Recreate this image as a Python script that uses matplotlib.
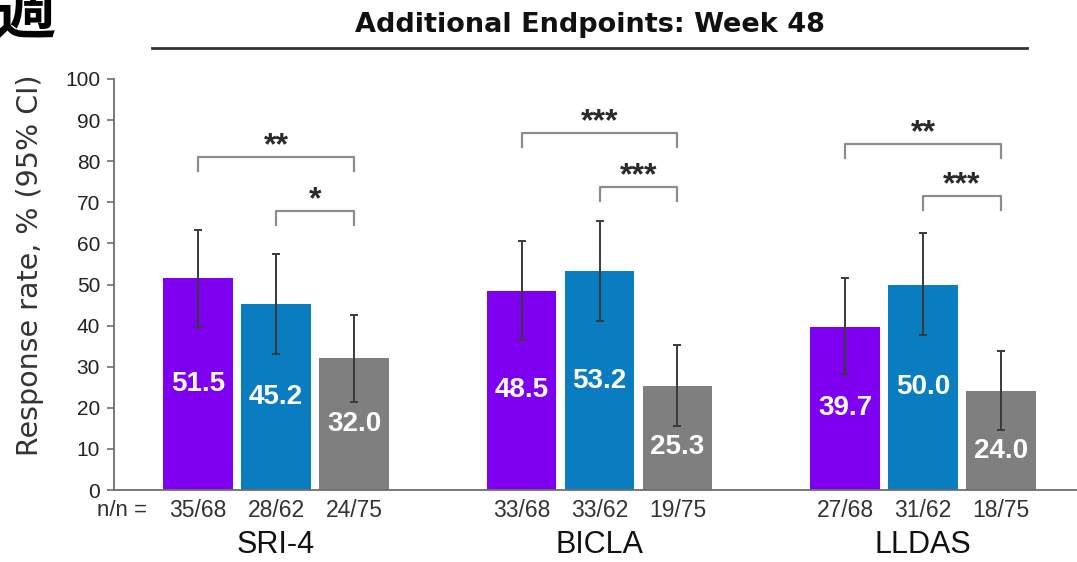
import matplotlib
matplotlib.use("Agg")
import matplotlib.pyplot as plt
from matplotlib.transforms import blended_transform_factory

plt.rcParams['font.family'] = ['Liberation Sans', 'DejaVu Sans']

# Endpoints and treatment arms
endpoints = ["SRI-4", "BICLA", "LLDAS"]
arm_colors = ["#7F00F0", "#0A7DC0", "#7F7F7F"]

# Response rates (%) per endpoint, arm order: purple, blue, gray
rates = [
    [51.5, 45.2, 32.0],
    [48.5, 53.2, 25.3],
    [39.7, 50.0, 24.0],
]
ci_low = [
    [39.7, 33.0, 21.5],
    [36.5, 41.0, 15.5],
    [28.3, 37.8, 14.5],
]
ci_high = [
    [63.3, 57.5, 42.5],
    [60.5, 65.5, 35.2],
    [51.6, 62.5, 33.9],
]
counts = [
    ["35/68", "28/62", "24/75"],
    ["33/68", "33/62", "19/75"],
    ["27/68", "31/62", "18/75"],
]

# Significance brackets: (endpoint index, arm from, arm to, height, label)
brackets = [
    (0, 0, 2, 81.0, "**"),
    (0, 1, 2, 67.9, "*"),
    (1, 0, 2, 86.9, "***"),
    (1, 1, 2, 73.7, "***"),
    (2, 0, 2, 84.2, "**"),
    (2, 1, 2, 71.5, "***"),
]

fig = plt.figure(figsize=(10.77, 5.62), dpi=100)
ax = fig.add_axes([114 / 1077, 1 - 490 / 562, 1 - 114 / 1077, (490 - 79) / 562])

step = 0.241
width = 0.216

def bar_x(g, a):
    return g + (a - 1) * step

for g in range(len(endpoints)):
    for a in range(3):
        x = bar_x(g, a)
        v = rates[g][a]
        ax.bar(x, v, width=width, color=arm_colors[a], zorder=2)
        ax.errorbar(x, v, yerr=[[v - ci_low[g][a]], [ci_high[g][a] - v]],
                    fmt="none", ecolor="#3a3a3a", elinewidth=1.4,
                    capsize=3, capthick=1.4, zorder=3)
        ty = min(v / 2, ci_low[g][a] - 5)
        ax.text(x, ty, f"{v:.1f}", ha="center", va="center", color="white",
                fontsize=20, fontweight="bold", zorder=4)

tick_drop = 3.4
for g, a0, a1, h, lab in brackets:
    x0, x1 = bar_x(g, a0), bar_x(g, a1)
    ax.plot([x0, x0, x1, x1], [h - tick_drop, h, h, h - tick_drop],
            color="#8c8c8c", lw=1.6, zorder=2, clip_on=False)
    ax.text((x0 + x1) / 2, h + 0.6, lab, ha="center", va="baseline",
            fontsize=23, fontweight="bold", color="#2a2a2a")

ax.set_ylim(0, 100)
ax.set_xlim(-0.5008, 2.476)
ax.set_yticks(range(0, 101, 10))
ax.set_xticks([])
ax.tick_params(axis="y", direction="out", length=5, width=1.2,
               colors="#6e6e6e", labelcolor="#222222", labelsize=15, pad=5)
for s in ["top", "right"]:
    ax.spines[s].set_visible(False)
for s in ["left", "bottom"]:
    ax.spines[s].set_color("#6e6e6e")
    ax.spines[s].set_linewidth(1.3)

trans = blended_transform_factory(ax.transData, ax.transAxes)
ax.text(-0.476, -0.049, "n/n =", transform=trans, ha="center", va="center",
        fontsize=16, color="#333333", clip_on=False)
for g in range(len(endpoints)):
    for a in range(3):
        ax.text(bar_x(g, a), -0.049, counts[g][a], transform=trans,
                ha="center", va="center", fontsize=16.5, color="#333333")
    ax.text(g, -0.134, endpoints[g], transform=trans, ha="center",
            va="center", fontsize=22, color="#111111")

fig.text(30 / 1077, 1 - 265 / 562, "Response rate, % (95% CI)", rotation=90,
         ha="center", va="center", fontsize=20.5, color="#333333",
         family=["DejaVu Sans"])

fig.text(590 / 1077, 1 - 25 / 562, "Additional Endpoints: Week 48",
         ha="center", va="center", fontsize=19.5, fontweight="bold",
         color="#111111", family=["DejaVu Sans"])
fig.add_artist(plt.Line2D([152 / 1077, 1027 / 1077], [1 - 48 / 562, 1 - 48 / 562],
                          color="#333333", lw=2))

fig.text(56 / 1077, 1 - 15 / 562, "週", ha="right", va="center",
         fontsize=44, fontweight="bold", color="black",
         family=["Noto Sans CJK JP", "DejaVu Sans"])

fig.savefig("out.png", dpi=100, facecolor="white")
